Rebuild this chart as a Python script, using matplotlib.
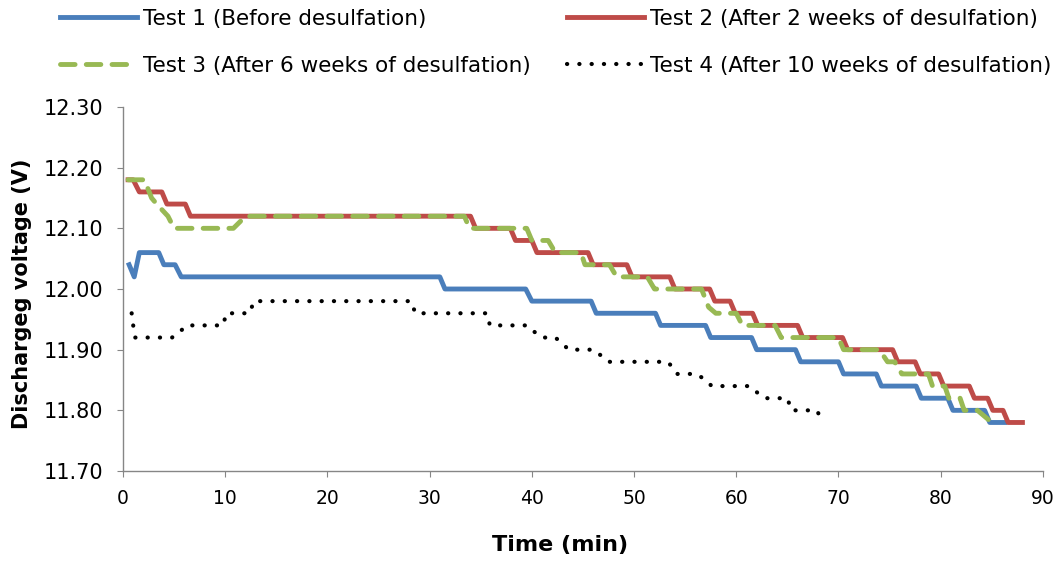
import matplotlib
matplotlib.use("Agg")
import matplotlib.pyplot as plt

# Test 1 (Before desulfation)
t1 = [0.6, 1.1, 1.6, 3.5, 4.0, 5.1, 5.7, 31.0, 31.5, 39.4, 40.0, 45.8, 46.3, 52.1, 52.6,
      57.0, 57.5, 61.5, 62.0, 65.8, 66.3, 70.0, 70.5, 73.7, 74.2, 77.6, 78.1, 80.7, 81.2,
      84.3, 84.8, 86.3]
v1 = [12.04, 12.02, 12.06, 12.06, 12.04, 12.04, 12.02, 12.02, 12.00, 12.00, 11.98, 11.98,
      11.96, 11.96, 11.94, 11.94, 11.92, 11.92, 11.90, 11.90, 11.88, 11.88, 11.86, 11.86,
      11.84, 11.84, 11.82, 11.82, 11.80, 11.80, 11.78, 11.78]

# Test 2 (After 2 weeks)
t2 = [0.5, 1.0, 1.6, 3.8, 4.3, 6.1, 6.6, 34.0, 34.5, 37.9, 38.4, 40.0, 40.5, 45.5, 46.0,
      49.3, 49.8, 53.5, 54.0, 57.4, 57.9, 59.4, 59.9, 61.6, 62.1, 66.0, 66.5, 70.4, 70.9,
      75.3, 75.8, 77.5, 78.0, 79.8, 80.3, 82.8, 83.3, 84.6, 85.1, 86.1, 86.6, 88.0]
v2 = [12.18, 12.18, 12.16, 12.16, 12.14, 12.14, 12.12, 12.12, 12.10, 12.10, 12.08, 12.08,
      12.06, 12.06, 12.04, 12.04, 12.02, 12.02, 12.00, 12.00, 11.98, 11.98, 11.96, 11.96,
      11.94, 11.94, 11.92, 11.92, 11.90, 11.90, 11.88, 11.88, 11.86, 11.86, 11.84, 11.84,
      11.82, 11.82, 11.80, 11.80, 11.78, 11.78]

# Test 3 (After 6 weeks)
t3 = [0.5, 2.1, 2.8, 3.3, 4.4, 5.0, 10.8, 11.4, 12.0, 33.4, 33.9, 39.5, 40.0, 41.6, 42.3,
      44.8, 45.2, 47.6, 48.3, 51.3, 52.0, 56.6, 57.3, 58.0, 60.0, 60.6, 63.8, 64.4, 70.0,
      70.5, 74.0, 74.8, 75.5, 76.2, 78.8, 79.2, 80.4, 80.8, 81.9, 82.3, 83.6, 84.3, 85.0]
v3 = [12.18, 12.18, 12.15, 12.14, 12.12, 12.10, 12.10, 12.11, 12.12, 12.12, 12.10, 12.10,
      12.08, 12.08, 12.06, 12.06, 12.04, 12.04, 12.02, 12.02, 12.00, 12.00, 11.97, 11.96,
      11.96, 11.94, 11.94, 11.92, 11.92, 11.90, 11.90, 11.88, 11.88, 11.86, 11.86, 11.84,
      11.84, 11.82, 11.82, 11.80, 11.80, 11.79, 11.78]

# Test 4 (After 10 weeks)
t4 = [0.85, 1.0, 1.2, 4.8, 5.6, 6.2, 9.8, 10.1, 12.4, 12.8, 28.2, 28.6, 35.6, 35.9, 39.5,
      40.2, 41.0, 42.3, 43.0, 43.6, 46.0, 46.8, 47.5, 53.3, 53.8, 54.2, 56.1, 57.0, 57.6,
      61.3, 62.0, 62.8, 65.0, 65.4, 67.9, 68.3]
v4 = [11.96, 11.94, 11.92, 11.92, 11.93, 11.94, 11.94, 11.96, 11.96, 11.98, 11.98, 11.96,
      11.96, 11.94, 11.94, 11.93, 11.92, 11.92, 11.91, 11.90, 11.90, 11.89, 11.88, 11.88,
      11.87, 11.86, 11.86, 11.85, 11.84, 11.84, 11.83, 11.82, 11.82, 11.80, 11.80, 11.785]

labels = ["Test 1 (Before desulfation)", "Test 2 (After 2 weeks of desulfation)",
          "Test 3 (After 6 weeks of desulfation)", "Test 4 (After 10 weeks of desulfation)"]

fig = plt.figure(figsize=(10.62, 5.61), dpi=100)
ax = fig.add_axes([0.1158, 0.1604, 0.8662, 0.6489])

l1, = ax.plot(t1, v1, color="#4A7EBB", lw=3.5, solid_joinstyle="round", label=labels[0])
l2, = ax.plot(t2, v2, color="#BE4B48", lw=3.5, solid_joinstyle="round", label=labels[1])
l3, = ax.plot(t3, v3, color="#98B954", lw=3.5, linestyle=(0, (3.0, 2.3)),
              dash_capstyle="round", label=labels[2])
l4, = ax.plot(t4, v4, color="black", lw=3.0, linestyle=(0, (0.05, 2.9)),
              dash_capstyle="round", label=labels[3])

ax.set_xlim(0, 90)
ax.set_ylim(11.70, 12.30)
ax.set_xticks(range(0, 91, 10))
ax.set_yticks([11.70, 11.80, 11.90, 12.00, 12.10, 12.20, 12.30])
ax.set_yticklabels(["%.2f" % v for v in ax.get_yticks()])

for s in ["top", "right"]:
    ax.spines[s].set_visible(False)
for s in ["left", "bottom"]:
    ax.spines[s].set_color("#868686")
    ax.spines[s].set_linewidth(1.0)
ax.tick_params(axis="both", direction="out", length=4, color="#868686")
ax.tick_params(axis="y", labelsize=15, pad=10)
ax.tick_params(axis="x", labelsize=13.5, pad=9)

ax.set_ylabel("Dischargeg voltage (V)", fontsize=15, fontweight="bold")
ax.yaxis.set_label_coords(-0.099, 0.486)
ax.set_xlabel("Time (min)", fontsize=16, fontweight="bold")
ax.xaxis.set_label_coords(0.475, -0.175)

fig.legend([l1, l3, l2, l4], [labels[0], labels[2], labels[1], labels[3]],
           ncol=2, loc="upper center", bbox_to_anchor=(0.523, 1.019), frameon=False,
           fontsize=15.5, handlelength=3.6, handletextpad=0.25, labelspacing=1.25,
           columnspacing=1.7)

fig.savefig("out.png", dpi=100)
